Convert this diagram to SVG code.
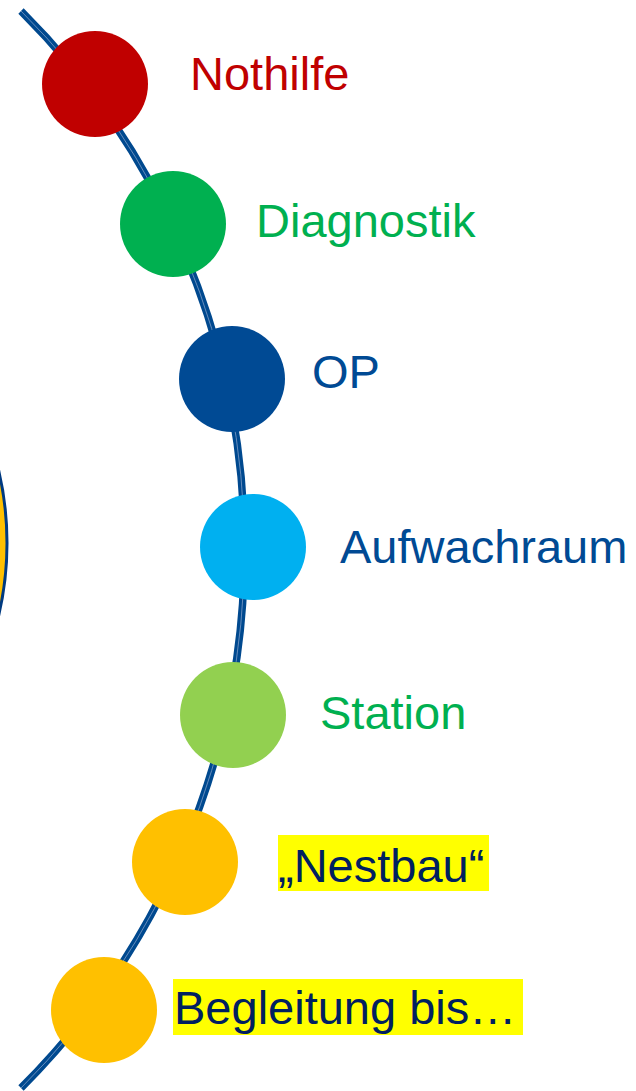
<svg xmlns="http://www.w3.org/2000/svg" width="636" height="1091" viewBox="0 0 636 1091">
<style>
  .lbl { font-family: "Liberation Sans", Arial, sans-serif; font-size: 47px; }
  .dot { stroke: none; }
</style>
<rect width="636" height="1091" fill="#ffffff"/>
<g id="left-circle">
  <circle cx="-312" cy="543" r="319" fill="#FFC000" stroke="#003A80" stroke-width="3"/>
</g>
<g id="connectors">
  <path d="M 21 11 A 760.5 760.5 0 0 1 21 1088" fill="none" stroke="#00498F" stroke-width="7.5"/>
  <path d="M 21 11 A 760.5 760.5 0 0 1 21 1088" fill="none" stroke="#7F9DC8" stroke-width="0.8"/>
</g>
<g id="nothilfe">
  <circle class="dot" cx="95" cy="84" r="53" fill="#C00000"/>
  <text class="lbl" x="190" y="90" fill="#C00000">Nothilfe</text>
</g>
<g id="diagnostik">
  <circle class="dot" cx="173" cy="224" r="53" fill="#00B050"/>
  <text class="lbl" x="256" y="237" fill="#00B050">Diagnostik</text>
</g>
<g id="op">
  <circle class="dot" cx="232" cy="379" r="53" fill="#004A94"/>
  <text class="lbl" x="312" y="388" fill="#004A94">OP</text>
</g>
<g id="aufwachraum">
  <circle class="dot" cx="253" cy="547" r="53" fill="#00B0F0"/>
  <text class="lbl" x="340" y="563" fill="#004A94">Aufwachraum</text>
</g>
<g id="station">
  <circle class="dot" cx="233" cy="715" r="53" fill="#92D050"/>
  <text class="lbl" x="320" y="729" fill="#00B050">Station</text>
</g>
<g id="nestbau">
  <circle class="dot" cx="185" cy="862" r="53" fill="#FFC000"/>
  <rect x="278" y="835" width="211" height="56" fill="#FFFF00"/>
  <text class="lbl" x="278" y="882" fill="#002060">„Nestbau“</text>
</g>
<g id="begleitung">
  <circle class="dot" cx="104" cy="1010" r="53" fill="#FFC000"/>
  <rect x="173" y="979" width="350" height="56" fill="#FFFF00"/>
  <text class="lbl" x="174" y="1024" fill="#002060">Begleitung bis…</text>
</g>
</svg>
